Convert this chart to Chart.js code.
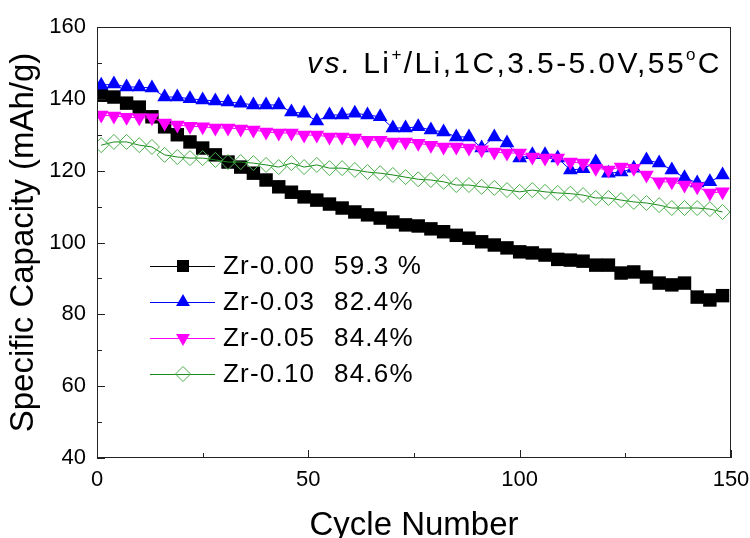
<!DOCTYPE html>
<html>
<head>
<meta charset="utf-8">
<script src="https://cdn.jsdelivr.net/npm/chart.js@4.4.1/dist/chart.umd.min.js"></script>
<style>
    html, body { margin: 0; padding: 0; background: #fff; }
</style>
</head>
<body>
<canvas id="chart" width="750" height="538"></canvas>
<script>
const FONT = "'Liberation Sans', Arial, sans-serif";

/* Cycle numbers of the plotted markers */
const cycles = [1, 4, 7, 10, 13, 16, 19, 22, 25, 28,
    31, 34, 37, 40, 43, 46, 49, 52, 55, 58,
    61, 64, 67, 70, 73, 76, 79, 82, 85, 88,
    91, 94, 97, 100, 103, 106, 109, 112, 115, 118,
    121, 124, 127, 130, 133, 136, 139, 142, 145, 148];

/* Specific capacity (mAh/g) */
const zr000 = [141.0, 140.5, 138.8, 137.7, 135.0, 132.2, 130.0, 128.0, 126.3, 124.4,
    122.4, 121.0, 119.3, 117.4, 115.5, 114.0, 112.7, 111.8, 110.7, 109.6,
    108.5, 107.7, 106.8, 105.7, 104.9, 104.6, 103.8, 103.0, 102.0, 101.2,
    100.2, 99.3, 98.5, 97.4, 97.1, 96.5, 95.3, 95.1, 94.8, 93.7,
    93.7, 91.5, 91.8, 90.4, 88.7, 88.2, 88.7, 84.8, 84.0, 85.2];

const zr003 = [143.8, 144.1, 143.3, 143.3, 143.0, 140.5, 140.5, 140.0, 139.7, 139.4,
    139.1, 138.8, 138.3, 138.3, 138.3, 136.3, 136.0, 133.8, 135.5, 135.5,
    136.0, 135.5, 135.0, 131.9, 131.9, 132.2, 131.3, 130.8, 129.4, 129.4,
    126.3, 129.4, 127.7, 123.5, 124.4, 124.4, 123.5, 120.2, 120.5, 122.4,
    119.3, 119.6, 120.7, 123.0, 122.1, 120.2, 118.0, 116.6, 116.9, 118.8];

const zr005 = [135.5, 135.2, 134.9, 134.7, 134.7, 133.3, 132.7, 132.4, 132.2, 131.9,
    131.9, 131.6, 131.3, 130.8, 130.5, 130.5, 129.9, 129.9, 129.4, 129.4,
    129.1, 128.5, 128.5, 128.0, 128.0, 127.6, 127.1, 126.6, 126.6, 126.3,
    125.8, 125.2, 124.9, 124.9, 123.8, 123.5, 123.5, 122.4, 122.1, 120.7,
    120.2, 121.0, 120.7, 118.8, 116.9, 116.9, 116.0, 115.5, 113.8, 114.1];

const zr010 = [127.1, 128.0, 128.0, 127.1, 126.6, 124.4, 123.8, 123.5, 123.5, 123.0,
    122.4, 122.4, 122.1, 121.6, 121.0, 122.1, 121.0, 121.6, 120.7, 120.7,
    120.2, 119.6, 119.3, 118.8, 118.2, 117.6, 117.4, 116.9, 116.0, 116.0,
    115.5, 115.2, 114.6, 114.1, 114.6, 114.1, 113.8, 113.6, 113.2, 112.4,
    112.4, 111.8, 111.3, 111.0, 110.4, 109.6, 109.6, 109.6, 109.3, 108.5];

const seriesNames = ["Zr-0.00", "Zr-0.03", "Zr-0.05", "Zr-0.10"];
const retention = ["59.3 %", "82.4%", "84.4%", "84.6%"];

const yTicks = [40, 60, 80, 100, 120, 140, 160];
const xTicks = [0, 50, 100, 150];

function pts(values) {
    return values.map((v, i) => ({ x: cycles[i], y: v }));
}

/* Frame, inward ticks, legend and the condition note */
const overlay = {
    id: "overlay",
    afterDatasetsDraw(chart) {
        const { ctx, chartArea: a, scales: { x, y } } = chart;
        ctx.save();

        ctx.strokeStyle = "#222";
        ctx.lineWidth = 1;
        ctx.strokeRect(Math.round(a.left) + 0.5, Math.round(a.top) + 0.5,
            Math.round(a.width) - 1, Math.round(a.height) - 1);

        ctx.beginPath();
        for (let v = 40; v <= 160; v += 10) {
            const py = Math.round(y.getPixelForValue(v)) + 0.5;
            const len = v % 20 === 0 ? 8 : 5;
            ctx.moveTo(a.left, py);
            ctx.lineTo(a.left + len, py);
        }
        for (let v = 0; v <= 150; v += 25) {
            const px = Math.round(x.getPixelForValue(v)) + 0.5;
            const len = v % 50 === 0 ? 8 : 5;
            ctx.moveTo(px, a.bottom);
            ctx.lineTo(px, a.bottom - len);
        }
        ctx.stroke();

        /* legend: line with marker in the middle */
        const legendY = [266, 302, 338, 374];
        chart.data.datasets.forEach((ds, i) => {
            const ly = legendY[i];
            ctx.strokeStyle = ds.legendLine;
            ctx.lineWidth = 1;
            ctx.beginPath();
            ctx.moveTo(150, ly + 0.5);
            ctx.lineTo(215, ly + 0.5);
            ctx.stroke();

            ctx.fillStyle = ds.pointBackgroundColor;
            ctx.strokeStyle = ds.pointBorderColor;
            ctx.lineWidth = ds.pointBorderWidth;
            Chart.helpers.drawPoint(ctx, {
                pointStyle: ds.pointStyle,
                rotation: ds.pointRotation || 0,
                radius: ds.legendRadius,
                borderWidth: ds.pointBorderWidth
            }, 183, ly);

            ctx.fillStyle = "#000";
            ctx.font = "26px " + FONT;
            ctx.letterSpacing = "1.2px";
            ctx.textBaseline = "middle";
            ctx.textAlign = "left";
            ctx.fillText(seriesNames[i], 223, ly + 1);
            ctx.fillText(retention[i], 334, ly + 1);
        });

        /* condition note with italic vs. and superscripts */
        ctx.fillStyle = "#000";
        ctx.textBaseline = "alphabetic";
        ctx.letterSpacing = "2.4px";
        let tx = 307;
        const base = 73;
        const parts = [
            { t: "vs.", f: "italic 30px " + FONT, dy: 0 },
            { t: " Li", f: "30px " + FONT, dy: 0 },
            { t: "+", f: "17px " + FONT, dy: -13 },
            { t: "/Li,1C,3.5-5.0V,55", f: "30px " + FONT, dy: 0 },
            { t: "o", f: "17px " + FONT, dy: -13 },
            { t: "C", f: "30px " + FONT, dy: 0 }
        ];
        parts.forEach(p => {
            ctx.font = p.f;
            ctx.fillText(p.t, tx, base + p.dy);
            tx += ctx.measureText(p.t).width;
        });

        ctx.restore();
    }
};

new Chart(document.getElementById("chart"), {
    type: "line",
    data: {
        datasets: [
            {
                label: seriesNames[0],
                data: pts(zr000),
                borderColor: "#000000",
                legendLine: "#000000",
                borderWidth: 1,
                pointStyle: "rect",
                pointRadius: 9.5,
                legendRadius: 8.5,
                pointBackgroundColor: "#000000",
                pointBorderColor: "#000000",
                pointBorderWidth: 0,
                order: 4
            },
            {
                label: seriesNames[1],
                data: pts(zr003),
                borderColor: "#0000ff",
                legendLine: "#0000ff",
                borderWidth: 1,
                pointStyle: "triangle",
                pointRadius: 8.5,
                legendRadius: 8,
                pointBackgroundColor: "#0000ff",
                pointBorderColor: "#0000ff",
                pointBorderWidth: 0,
                order: 2
            },
            {
                label: seriesNames[2],
                data: pts(zr005),
                borderColor: "#ff00ff",
                legendLine: "#ff00ff",
                borderWidth: 1,
                pointStyle: "triangle",
                pointRotation: 180,
                pointRadius: 8.5,
                legendRadius: 8,
                pointBackgroundColor: "#ff00ff",
                pointBorderColor: "#ff00ff",
                pointBorderWidth: 0,
                order: 1
            },
            {
                label: seriesNames[3],
                data: pts(zr010),
                borderColor: "#1a8a1a",
                legendLine: "#1a8a1a",
                borderWidth: 1,
                pointStyle: "rectRot",
                pointRadius: 7.5,
                legendRadius: 7.5,
                pointBackgroundColor: "rgba(255,255,255,0)",
                pointBorderColor: "#4caf4c",
                pointBorderWidth: 1,
                order: 3
            }
        ]
    },
    options: {
        responsive: false,
        animation: false,
        layout: { padding: { top: 27, right: 19, left: 0, bottom: 0 } },
        plugins: {
            legend: { display: false },
            tooltip: { enabled: false }
        },
        scales: {
            x: {
                type: "linear",
                min: 0,
                max: 150,
                afterFit: (s) => { s.height = 80; s.paddingRight = 0; s.paddingLeft = 0; },
                afterBuildTicks: (s) => { s.ticks = xTicks.map(v => ({ value: v })); },
                grid: { display: false, drawTicks: false },
                border: { display: false },
                ticks: { color: "#000", font: { family: FONT, size: 22 }, padding: 9, maxRotation: 0 },
                title: {
                    display: true,
                    text: "Cycle Number",
                    color: "#000",
                    font: { family: FONT, size: 33, lineHeight: 0.6 },
                    padding: { top: 0, bottom: 2 }
                }
            },
            y: {
                min: 40,
                max: 160,
                afterFit: (s) => { s.width = 97; s.paddingTop = 0; s.paddingBottom = 0; },
                afterBuildTicks: (s) => { s.ticks = yTicks.map(v => ({ value: v })); },
                grid: { display: false, drawTicks: false },
                border: { display: false },
                ticks: { color: "#000", font: { family: FONT, size: 22 }, padding: 11 },
                title: {
                    display: true,
                    text: "Specific Capacity (mAh/g)",
                    color: "#000",
                    font: { family: FONT, size: 33 },
                    padding: { top: 4, bottom: 0 }
                }
            }
        }
    },
    plugins: [overlay]
});
</script>
</body>
</html>
